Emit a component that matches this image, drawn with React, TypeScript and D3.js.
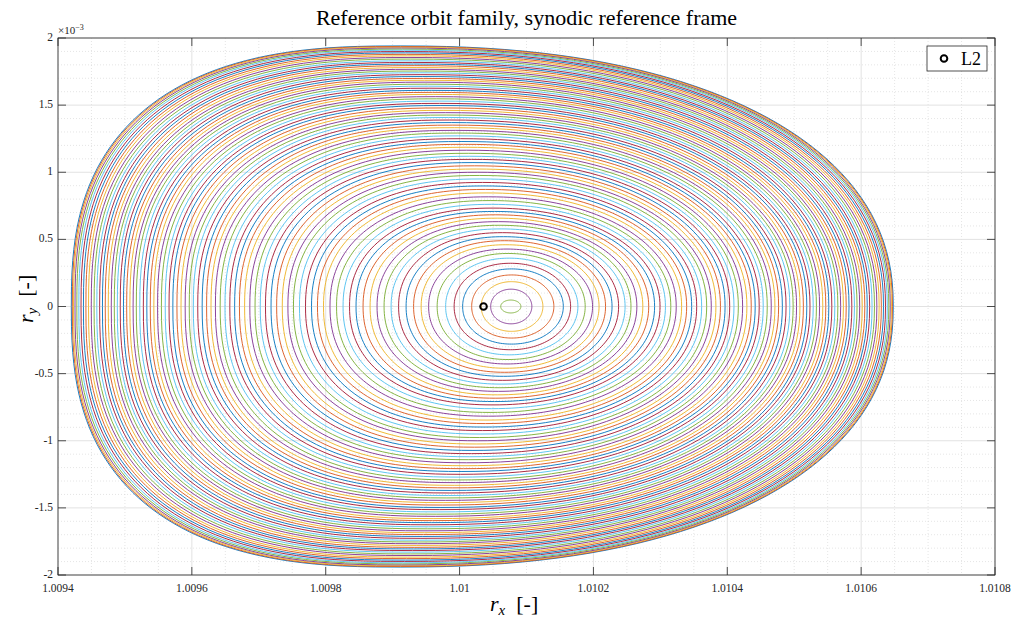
import React, { useEffect, useRef } from 'react';
import * as d3 from 'd3';

// orbit family, outermost first. crossings of the x axis [-], peak |r_y| in units of 1e-3
const leftCrossing = [
  1.0094199, 1.0094214, 1.0094232, 1.0094254, 1.0094281, 1.0094311, 1.0094344, 1.0094380, 1.0094417, 1.0094456,
  1.0094497, 1.0094539, 1.0094580, 1.0094622, 1.0094664, 1.0094706, 1.0094751, 1.0094796, 1.0094841, 1.0094886,
  1.0094930, 1.0094978, 1.0095026, 1.0095074, 1.0095122, 1.0095170, 1.0095222, 1.0095275, 1.0095327, 1.0095379,
  1.0095432, 1.0095488, 1.0095545, 1.0095602, 1.0095659, 1.0095716, 1.0095777, 1.0095838, 1.0095900, 1.0095961,
  1.0096022, 1.0096088, 1.0096154, 1.0096220, 1.0096286, 1.0096352, 1.0096423, 1.0096495, 1.0096567, 1.0096639,
  1.0096711, 1.0096788, 1.0096866, 1.0096944, 1.0097022, 1.0097100, 1.0097183, 1.0097267, 1.0097351, 1.0097435,
  1.0097518, 1.0097608, 1.0097698, 1.0097788, 1.0097877, 1.0097967, 1.0098064, 1.0098162, 1.0098259, 1.0098356,
  1.0098453, 1.0098558, 1.0098663, 1.0098767, 1.0098872, 1.0098977, 1.0099089, 1.0099201, 1.0099313, 1.0099426,
  1.0099538, 1.0099665, 1.0099792, 1.0099919, 1.0100046, 1.0100181, 1.0100323, 1.0100465, 1.0100615,
];
const rightCrossing = [
  1.0106480, 1.0106468, 1.0106453, 1.0106435, 1.0106414, 1.0106391, 1.0106364, 1.0106334, 1.0106302, 1.0106269,
  1.0106235, 1.0106199, 1.0106163, 1.0106127, 1.0106091, 1.0106055, 1.0106017, 1.0105978, 1.0105939, 1.0105900,
  1.0105861, 1.0105819, 1.0105777, 1.0105735, 1.0105694, 1.0105652, 1.0105607, 1.0105562, 1.0105517, 1.0105472,
  1.0105427, 1.0105379, 1.0105332, 1.0105284, 1.0105236, 1.0105188, 1.0105137, 1.0105086, 1.0105035, 1.0104984,
  1.0104934, 1.0104878, 1.0104823, 1.0104767, 1.0104712, 1.0104657, 1.0104597, 1.0104537, 1.0104477, 1.0104417,
  1.0104358, 1.0104293, 1.0104229, 1.0104165, 1.0104100, 1.0104036, 1.0103967, 1.0103898, 1.0103830, 1.0103761,
  1.0103692, 1.0103617, 1.0103543, 1.0103468, 1.0103393, 1.0103318, 1.0103237, 1.0103156, 1.0103076, 1.0102995,
  1.0102914, 1.0102826, 1.0102738, 1.0102649, 1.0102561, 1.0102473, 1.0102376, 1.0102278, 1.0102181, 1.0102084,
  1.0101987, 1.0101877, 1.0101768, 1.0101659, 1.0101550, 1.0101409, 1.0101245, 1.0101080, 1.0100916,
];
const peakRy = [
  1.941, 1.937, 1.931, 1.925, 1.917, 1.909, 1.899, 1.889, 1.878, 1.867,
  1.855, 1.843, 1.830, 1.818, 1.806, 1.794, 1.780, 1.767, 1.754, 1.741,
  1.727, 1.713, 1.699, 1.685, 1.671, 1.656, 1.641, 1.626, 1.610, 1.595,
  1.580, 1.563, 1.547, 1.530, 1.513, 1.497, 1.479, 1.461, 1.444, 1.426,
  1.408, 1.389, 1.370, 1.351, 1.332, 1.312, 1.292, 1.271, 1.250, 1.229,
  1.208, 1.186, 1.164, 1.141, 1.119, 1.096, 1.072, 1.048, 1.024, 1.000,
  0.976, 0.950, 0.924, 0.898, 0.872, 0.846, 0.817, 0.789, 0.761, 0.733,
  0.708, 0.683, 0.658, 0.632, 0.605, 0.578, 0.550, 0.520, 0.490, 0.460,
  0.428, 0.395, 0.360, 0.322, 0.280, 0.235, 0.185, 0.129, 0.048,
];

const l2Point = { x: 1.0100358, y: 0 };

const xTicks = [1.0094, 1.0096, 1.0098, 1.01, 1.0102, 1.0104, 1.0106, 1.0108];
const xTickLabels = ['1.0094', '1.0096', '1.0098', '1.01', '1.0102', '1.0104', '1.0106', '1.0108'];
const yTicks = [-2, -1.5, -1, -0.5, 0, 0.5, 1, 1.5, 2];
const yTickLabels = ['-2', '-1.5', '-1', '-0.5', '0', '0.5', '1', '1.5', '2'];

const colorOrder = ['#0072BD', '#D95319', '#EDB120', '#7E2F8E', '#77AC30', '#4DBEEE', '#A2142F'];

const W = 1011;
const H = 619;
const serif = 'Liberation Serif, DejaVu Serif, serif';

const App = () => {
  const svgRef = useRef<SVGSVGElement>(null);

  useEffect(() => {
    const svg = d3.select(svgRef.current);
    svg.selectAll('*').remove();

    const margin = { top: 38, right: 16, bottom: 44, left: 58 };
    const x0 = margin.left;
    const x1 = W - margin.right;
    const y0 = margin.top;
    const y1 = H - margin.bottom;

    const x = d3.scaleLinear().domain([1.0094, 1.0108]).range([x0, x1]);
    const y = d3.scaleLinear().domain([-2, 2]).range([y1, y0]);

    svg.append('rect').attr('width', W).attr('height', H).attr('fill', 'white');

    // minor grid (dotted), then major grid
    const minorX = d3.range(1.0094, 1.01081, 0.00005).filter((v) => Math.abs(Math.round(v / 0.0002) * 0.0002 - v) > 1e-9);
    const minorY = d3.range(-2, 2.001, 0.1).filter((v) => Math.abs(Math.round(v * 2) / 2 - v) > 1e-6);
    const grid = svg.append('g');
    grid.selectAll('.mx').data(minorX).enter().append('line')
      .attr('x1', (d) => x(d)).attr('x2', (d) => x(d)).attr('y1', y0).attr('y2', y1)
      .attr('stroke', '#d4d4d4').attr('stroke-width', 0.6).attr('stroke-dasharray', '1,2');
    grid.selectAll('.my').data(minorY).enter().append('line')
      .attr('x1', x0).attr('x2', x1).attr('y1', (d) => y(d)).attr('y2', (d) => y(d))
      .attr('stroke', '#d4d4d4').attr('stroke-width', 0.6).attr('stroke-dasharray', '1,2');
    grid.selectAll('.gx').data(xTicks).enter().append('line')
      .attr('x1', (d) => x(d)).attr('x2', (d) => x(d)).attr('y1', y0).attr('y2', y1)
      .attr('stroke', '#e2e2e2').attr('stroke-width', 1);
    grid.selectAll('.gy').data(yTicks).enter().append('line')
      .attr('x1', x0).attr('x2', x1).attr('y1', (d) => y(d)).attr('y2', (d) => y(d))
      .attr('stroke', '#e2e2e2').attr('stroke-width', 1);

    // orbits: egg shaped closed curves through the crossings and the peak
    const hMax = d3.max(peakRy) as number;
    const orbitPath = (i: number) => {
      const xl = leftCrossing[i];
      const xr = rightCrossing[i];
      const h = peakRy[i];
      const rel = h / hMax;
      const nL = 2 + 0.6 * rel;
      const nR = 2 + 0.25 * rel;
      const xTop = xl + (0.5 - 0.1 * rel) * (xr - xl);
      const pts: [number, number][] = d3.range(0, 2 * Math.PI, Math.PI / 90).map((t) => {
        const c = Math.cos(t);
        const s = Math.sin(t);
        const n = c >= 0 ? nR : nL;
        const cx = Math.sign(c) * Math.pow(Math.abs(c), 2 / n);
        const sy = Math.sign(s) * Math.pow(Math.abs(s), 2 / n);
        const px = c >= 0 ? xTop + (xr - xTop) * cx : xTop + (xTop - xl) * cx;
        return [x(px), y(h * sy)];
      });
      return d3.line().curve(d3.curveLinearClosed)(pts);
    };
    svg.append('g').selectAll('path').data(d3.range(leftCrossing.length)).enter().append('path')
      .attr('d', (i) => orbitPath(i))
      .attr('fill', 'none')
      .attr('stroke', (i) => colorOrder[i % colorOrder.length])
      .attr('stroke-width', 0.9);

    // L2
    svg.append('circle').attr('cx', x(l2Point.x)).attr('cy', y(l2Point.y)).attr('r', 3.3)
      .attr('fill', 'none').attr('stroke', 'black').attr('stroke-width', 2);

    // box and ticks
    const axisColor = '#262626';
    svg.append('rect').attr('x', x0).attr('y', y0).attr('width', x1 - x0).attr('height', y1 - y0)
      .attr('fill', 'none').attr('stroke', axisColor).attr('stroke-width', 0.8);
    const tk = svg.append('g').attr('stroke', axisColor).attr('stroke-width', 0.8);
    xTicks.forEach((v) => {
      tk.append('line').attr('x1', x(v)).attr('x2', x(v)).attr('y1', y1).attr('y2', y1 - 8);
      tk.append('line').attr('x1', x(v)).attr('x2', x(v)).attr('y1', y0).attr('y2', y0 + 8);
    });
    yTicks.forEach((v) => {
      tk.append('line').attr('x1', x0).attr('x2', x0 + 8).attr('y1', y(v)).attr('y2', y(v));
      tk.append('line').attr('x1', x1).attr('x2', x1 - 8).attr('y1', y(v)).attr('y2', y(v));
    });

    svg.append('g').selectAll('text').data(xTicks).enter().append('text')
      .attr('x', (d) => x(d)).attr('y', y1 + 17)
      .attr('text-anchor', 'middle').attr('font-family', serif).attr('font-size', 11.5)
      .attr('fill', axisColor).text((d, i) => xTickLabels[i]);
    svg.append('g').selectAll('text').data(yTicks).enter().append('text')
      .attr('x', x0 - 5).attr('y', (d) => y(d) + 3)
      .attr('text-anchor', 'end').attr('font-family', serif).attr('font-size', 11.5)
      .attr('fill', axisColor).text((d, i) => yTickLabels[i]);

    const ex = svg.append('text').attr('x', x0).attr('y', y0 - 4)
      .attr('font-family', serif).attr('font-size', 11).attr('fill', axisColor);
    ex.append('tspan').text('×10');
    ex.append('tspan').attr('dy', -4).attr('font-size', 8).text('−3');

    // title
    svg.append('text').attr('x', (x0 + x1) / 2).attr('y', 25)
      .attr('text-anchor', 'middle').attr('font-family', serif).attr('font-size', 22)
      .attr('fill', 'black').text('Reference orbit family, synodic reference frame');

    // axis labels
    const xl = svg.append('text').attr('x', 490).attr('y', 611)
      .attr('font-family', serif).attr('font-size', 22).attr('fill', 'black');
    xl.append('tspan').attr('font-style', 'italic').text('r');
    xl.append('tspan').attr('font-style', 'italic').attr('font-size', 15).attr('dy', 4).text('x');
    xl.append('tspan').attr('dy', -4).text('\u2002[-]');

    const yl = svg.append('text').attr('transform', 'translate(33,323) rotate(-90)')
      .attr('font-family', serif).attr('font-size', 22).attr('fill', 'black');
    yl.append('tspan').attr('font-style', 'italic').text('r');
    yl.append('tspan').attr('font-style', 'italic').attr('font-size', 15).attr('dy', 4).text('y');
    yl.append('tspan').attr('dy', -4).text('\u2002[-]');

    // legend
    const lg = svg.append('g');
    lg.append('rect').attr('x', 927).attr('y', 46).attr('width', 60).attr('height', 25)
      .attr('fill', 'white').attr('stroke', axisColor).attr('stroke-width', 0.8);
    lg.append('circle').attr('cx', 944).attr('cy', 58.5).attr('r', 3.3)
      .attr('fill', 'none').attr('stroke', 'black').attr('stroke-width', 2);
    lg.append('text').attr('x', 961).attr('y', 65).attr('font-family', serif).attr('font-size', 18)
      .attr('fill', 'black').text('L2');
  }, []);

  return (
    <svg ref={svgRef} width={W} height={H} style={{ position: 'absolute', left: 0, top: 0, display: 'block' }} />
  );
};

export default App;
